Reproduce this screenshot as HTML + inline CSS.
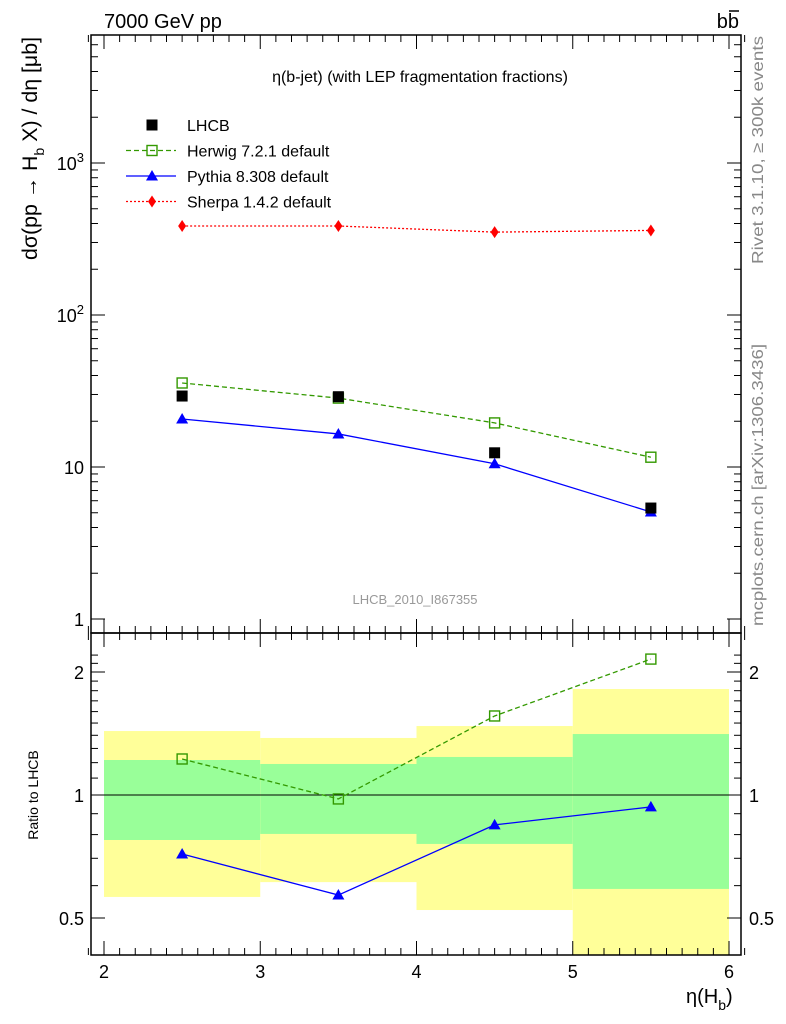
<!DOCTYPE html>
<html><head><meta charset="utf-8"><style>
html,body{margin:0;padding:0;background:#fff;}
svg{display:block;font-family:"Liberation Sans",sans-serif;}
</style></head><body>
<svg id="c" width="786" height="1024" viewBox="0 0 786 1024" xmlns="http://www.w3.org/2000/svg">
<g id="bands"></g><g id="grid"></g><g id="marks"></g><g id="axes"></g>
<text x="104" y="28" font-size="20">7000 GeV pp</text>
<text x="739" y="28" font-size="20" text-anchor="end">bb</text>
<line x1="729" y1="11" x2="739" y2="11" stroke="#000" stroke-width="1.5"/>
<text x="420" y="82" font-size="16" text-anchor="middle">η(b-jet) (with LEP fragmentation fractions)</text>
<text x="415" y="604" font-size="13" fill="#999" text-anchor="middle">LHCB_2010_I867355</text>
<text transform="translate(763,150) rotate(-90)" font-size="16" fill="#888" text-anchor="middle" textLength="228" lengthAdjust="spacingAndGlyphs">Rivet 3.1.10, ≥ 300k events</text>
<text transform="translate(763,485) rotate(-90)" font-size="16" fill="#888" text-anchor="middle" textLength="282" lengthAdjust="spacingAndGlyphs">mcplots.cern.ch [arXiv:1306.3436]</text>
<text transform="translate(37,260) rotate(-90)" font-size="21" textLength="223" lengthAdjust="spacingAndGlyphs">dσ(pp → H<tspan font-size="14" dy="7">b</tspan><tspan dy="-7"> X) / dη [μb]</tspan></text>
<text transform="translate(38,795) rotate(-90)" font-size="14" text-anchor="middle">Ratio to LHCB</text>
<text x="686" y="1003" font-size="20">η(H<tspan font-size="14" dy="7">b</tspan><tspan dy="-7">)</tspan></text>
<g id="legend"></g>
</svg>
<script>
const xEdges=[2,3,4,5,6];
const xCenters=[2.5,3.5,4.5,5.5];
const lhcb=[29.3,29.0,12.4,5.37];
const herwig=[35.7,28.4,19.5,11.6];
const pythia=[20.7,16.5,10.5,5.06];
const sherpa=[385,385,351,360];
const yellowHi=[1.434,1.379,1.475,1.817];
const yellowLo=[0.563,0.612,0.523,0.3];
const greenHi=[1.218,1.191,1.239,1.410];
const greenLo=[0.776,0.803,0.759,0.589];
const herwigRatio=[1.225,0.978,1.561,2.151];
const pythiaRatio=[0.717,0.569,0.845,0.935];
const xTicks=[2,3,4,5,6];
const mainTicks=[1,10,100,1000];
const mainTickBase=["1","10","10","10"];
const mainTickExp=["","","2","3"];
const ratioTicks=[0.5,1,2];
const ratioTickLabels=["0.5","1","2"];

const L=91,R=741,T=35,M=633,B=955;
const X=v=>104+(v-2)*156.25;
const Y=v=>619-Math.log10(v)*152;
const YR=v=>795-Math.log2(v)*123;
const NS="http://www.w3.org/2000/svg";
function mk(tag,attrs,parent){const e=document.createElementNS(NS,tag);for(const k in attrs)e.setAttribute(k,attrs[k]);(typeof parent==='string'?document.getElementById(parent):parent).appendChild(e);return e;}

const clipY=v=>Math.min(B,Math.max(M,v));
for(let i=0;i<4;i++){
  let e=mk('rect',{x:X(xEdges[i]),y:clipY(YR(yellowHi[i])),width:X(xEdges[i+1])-X(xEdges[i]),height:clipY(YR(yellowLo[i]))-clipY(YR(yellowHi[i])),fill:'#ffff99'},'bands');
  
  
  e=mk('rect',{x:X(xEdges[i]),y:YR(greenHi[i]),width:X(xEdges[i+1])-X(xEdges[i]),height:YR(greenLo[i])-YR(greenHi[i]),fill:'#99ff99'},'bands');
  
  
}
mk('line',{x1:L,x2:R,y1:YR(1),y2:YR(1),stroke:'#000','stroke-width':1},'grid');

function series(name,xs,ys,fy,color,dash,marker){
  const pts=xs.map((x,i)=>X(x)+','+fy(ys[i])).join(' ');
  if(dash!==null){const l=mk('polyline',{points:pts,fill:'none',stroke:color,'stroke-width':1.3,'stroke-dasharray':dash},'marks');
  
  }
  xs.forEach((x,i)=>{const e=drawMarker(marker,X(x),fy(ys[i]),color,'marks');
  
  });
}
function drawMarker(m,cx,cy,color,p){
  if(m==='sq')return mk('rect',{x:cx-5.5,y:cy-5.5,width:11,height:11,fill:color},p);
  if(m==='osq')return mk('rect',{x:cx-5,y:cy-5,width:10,height:10,fill:'none',stroke:color,'stroke-width':1.4},p);
  if(m==='tri')return mk('polygon',{points:`${cx},${cy-6} ${cx-6},${cy+4.5} ${cx+6},${cy+4.5}`,fill:color},p);
  return mk('polygon',{points:`${cx},${cy-6} ${cx-4},${cy} ${cx},${cy+6} ${cx+4},${cy}`,fill:color},p);
}
series('sherpa',xCenters,sherpa,Y,'#ff0000','2,2','dia');
series('herwig',xCenters,herwig,Y,'#339900','5,3','osq');
series('pythia',xCenters,pythia,Y,'#0000ff','none','tri');
series('lhcb',xCenters,lhcb,Y,'#000',null,'sq');
series('herwig-ratio',xCenters,herwigRatio,YR,'#339900','5,3','osq');
series('pythia-ratio',xCenters,pythiaRatio,YR,'#0000ff','none','tri');

mk('rect',{x:L,y:T,width:R-L,height:M-T,fill:'none',stroke:'#000','stroke-width':1.5},'axes');
mk('rect',{x:L,y:M,width:R-L,height:B-M,fill:'none',stroke:'#000','stroke-width':1.5},'axes');
for(let v=1.9;v<=6.1001;v+=0.1){
  const x=X(v),maj=Math.abs(v-Math.round(v))<1e-6,len=maj?14:7;
  [[T,T+len],[M,M-len],[M,M+len],[B,B-len]].forEach(a=>mk('line',{x1:x,x2:x,y1:a[0],y2:a[1],stroke:'#000'},'axes'));
}
xTicks.forEach(v=>{const t=mk('text',{x:X(v),y:978,'font-size':18,'text-anchor':'middle'},'axes');t.textContent=v;

});
for(let d=0;d<4;d++)for(let k=1;k<10;k++){
  const v=Math.pow(10,d)*k,y=Y(v);if(y<T)continue;const len=k===1?14:7;
  mk('line',{x1:L,x2:L+len,y1:y,y2:y,stroke:'#000'},'axes');mk('line',{x1:R,x2:R-len,y1:y,y2:y,stroke:'#000'},'axes');
}
mainTicks.forEach((v,i)=>{const t=mk('text',{x:84,y:Y(v)+7,'font-size':18,'text-anchor':'end'},'axes');
  const b=mk('tspan',{},t);b.textContent=mainTickBase[i];
  if(mainTickExp[i]){const e=mk('tspan',{dy:-8,'font-size':13},t);e.textContent=mainTickExp[i];}

});
for(let v=0.4;v<=2.3;v+=0.1){const y=YR(v);if(y<M||y>B)continue;const maj=ratioTicks.some(r=>Math.abs(r-v)<1e-6),len=maj?14:7;
  mk('line',{x1:L,x2:L+len,y1:y,y2:y,stroke:'#000'},'axes');mk('line',{x1:R,x2:R-len,y1:y,y2:y,stroke:'#000'},'axes');}
ratioTicks.forEach((v,i)=>{[[84,'end'],[749,'start']].forEach(p=>{const t=mk('text',{x:p[0],y:YR(v)+7,'font-size':18,'text-anchor':p[1]},'axes');t.textContent=ratioTickLabels[i];

});});

const leg=[['LHCB','#000',null,'sq'],['Herwig 7.2.1 default','#339900','5,3','osq'],['Pythia 8.308 default','#0000ff','none','tri'],['Sherpa 1.4.2 default','#ff0000','2,2','dia']];
leg.forEach((l,i)=>{const y=125+i*25.5;
  if(l[2]!==null)mk('line',{x1:126,x2:176,y1:y,y2:y,stroke:l[1],'stroke-width':1.3,'stroke-dasharray':l[2]},'legend');
  drawMarker(l[3],152,y,l[1],'legend');
  const t=mk('text',{x:187,y:y+6,'font-size':16},'legend');t.textContent=l[0];
  
  });
</script>
</body></html>
